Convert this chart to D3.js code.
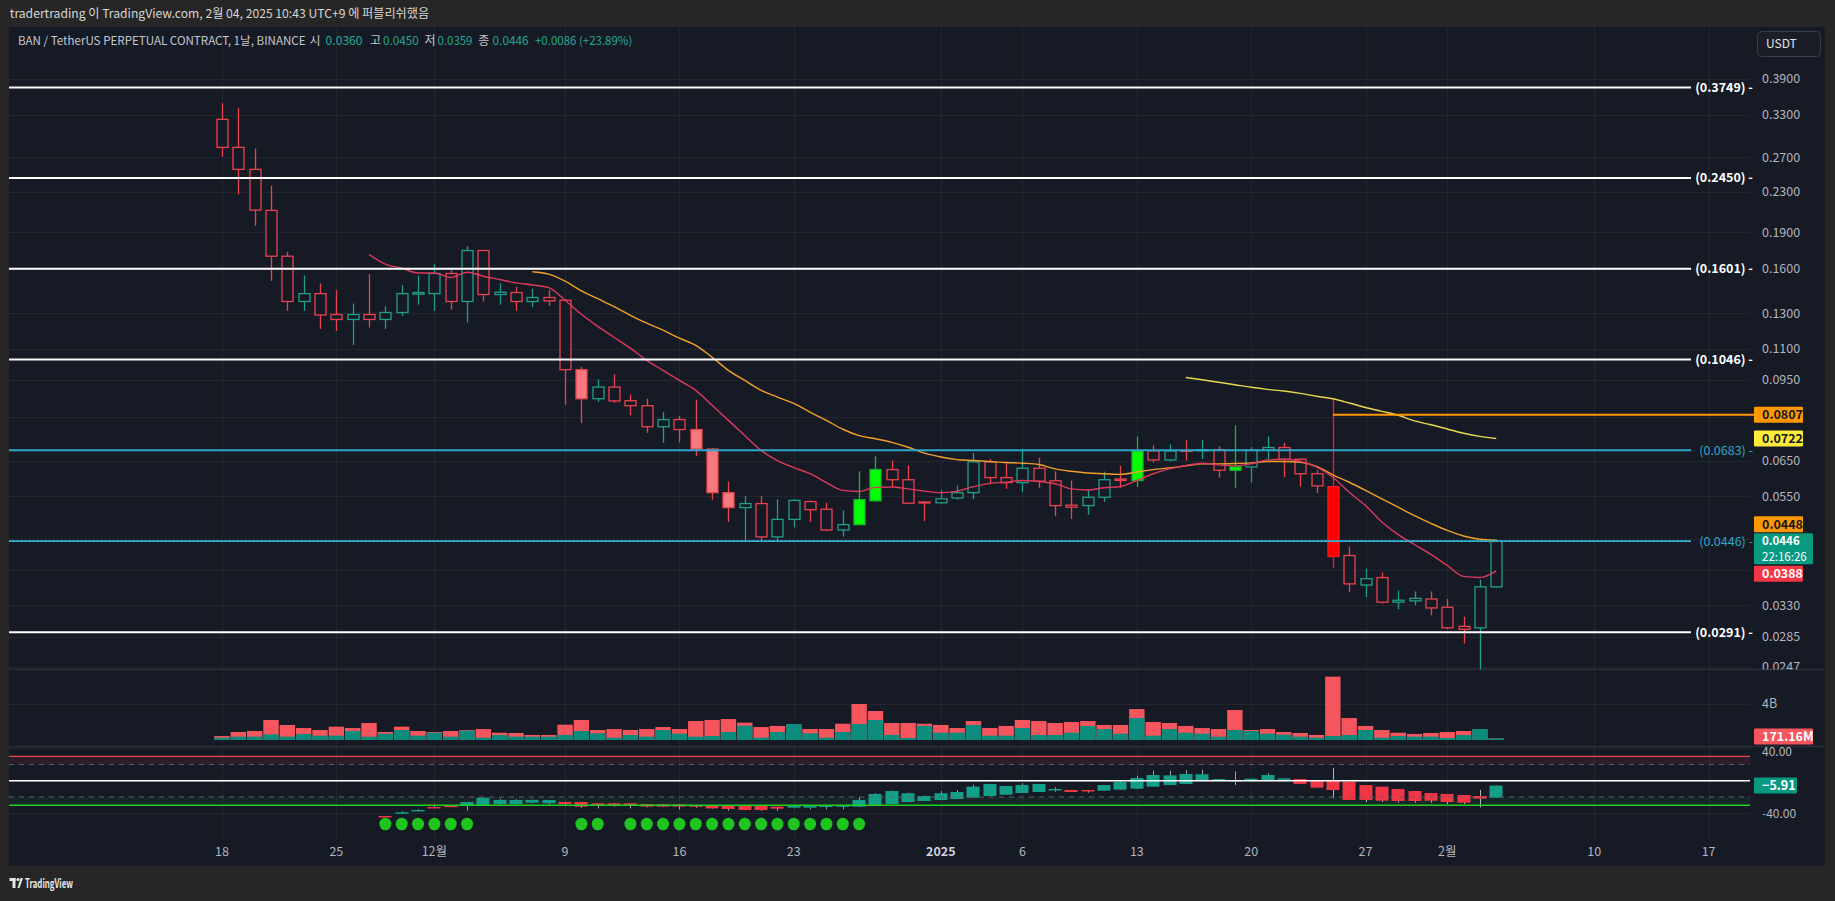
<!DOCTYPE html>
<html><head><meta charset="utf-8">
<script src="https://cdn.jsdelivr.net/npm/d3@7"></script>
<style>html,body{margin:0;padding:0;background:#262626;overflow:hidden}</style>
</head><body><svg id="c" width="1835" height="901"></svg>
<script>
// ---------------- DATA ----------------
const startDate = new Date(Date.UTC(2024, 10, 18));
const dates = d3.range(79).map(i => d3.utcDay.offset(startDate, i));
const open  = [0.3227,0.2830,0.2552,0.2105,0.1698,0.1373,0.1425,0.1292,0.1262,0.1292,
               0.1262,0.1304,0.1421,0.1425,0.1566,0.1373,0.1744,0.1419,0.1432,0.1373,
               0.1399,0.1381,0.0997,0.0870,0.0919,0.0862,0.0842,0.0763,0.0789,0.0753,
               0.0687,0.0560,0.0522,0.0532,0.0455,0.0494,0.0537,0.0518,0.0470,0.0482,
               0.0539,0.0624,0.0595,0.0536,0.0534,0.0546,0.0560,0.0647,0.0601,0.0587,
               0.0628,0.0592,0.0528,0.0527,0.0548,0.0597,0.0593,0.0681,0.0653,0.0683,
               0.0683,0.0685,0.0622,0.0632,0.0683,0.0692,0.0655,0.0612,0.0576,0.0417,
               0.0363,0.0376,0.0335,0.0337,0.0340,0.0327,0.0299,0.0297,0.0360];
const high  = [0.3480,0.3399,0.2816,0.2363,0.1733,0.1551,0.1494,0.1448,0.1360,0.1561,
               0.1343,0.1482,0.1551,0.1636,0.1590,0.1780,0.1750,0.1494,0.1470,0.1457,
               0.1448,0.1388,0.1010,0.0953,0.0976,0.0887,0.0870,0.0817,0.0802,0.0866,
               0.0690,0.0590,0.0552,0.0552,0.0543,0.0543,0.0540,0.0534,0.0515,0.0619,
               0.0664,0.0651,0.0636,0.0537,0.0567,0.0579,0.0675,0.0655,0.0643,0.0688,
               0.0660,0.0619,0.0593,0.0567,0.0618,0.0635,0.0729,0.0699,0.0702,0.0716,
               0.0718,0.0696,0.0768,0.0693,0.0729,0.0707,0.0658,0.0622,0.0870,0.0435,
               0.0392,0.0385,0.0354,0.0352,0.0352,0.0340,0.0313,0.0372,0.0450];
const low   = [0.2707,0.2269,0.1958,0.1512,0.1314,0.1314,0.1207,0.1196,0.1120,0.1215,
               0.1207,0.1281,0.1353,0.1314,0.1322,0.1244,0.1373,0.1353,0.1314,0.1338,
               0.1347,0.0846,0.0776,0.0857,0.0853,0.0805,0.0741,0.0707,0.0709,0.0665,
               0.0542,0.0488,0.0447,0.0445,0.0447,0.0476,0.0488,0.0467,0.0456,0.0481,
               0.0537,0.0575,0.0532,0.0490,0.0532,0.0542,0.0543,0.0585,0.0570,0.0561,
               0.0573,0.0501,0.0495,0.0504,0.0536,0.0573,0.0575,0.0645,0.0648,0.0651,
               0.0656,0.0601,0.0573,0.0588,0.0654,0.0602,0.0576,0.0559,0.0393,0.0351,
               0.0343,0.0333,0.0324,0.0330,0.0315,0.0295,0.0276,0.0244,0.0359];
const close = [0.2830,0.2552,0.2108,0.1698,0.1373,0.1425,0.1289,0.1262,0.1292,0.1262,
               0.1304,0.1425,0.1432,0.1566,0.1373,0.1744,0.1419,0.1434,0.1373,0.1399,
               0.1377,0.0997,0.0870,0.0919,0.0861,0.0842,0.0763,0.0789,0.0753,0.0687,
               0.0560,0.0522,0.0532,0.0455,0.0494,0.0540,0.0517,0.0470,0.0482,0.0542,
               0.0624,0.0595,0.0533,0.0534,0.0544,0.0560,0.0647,0.0601,0.0587,0.0628,
               0.0591,0.0527,0.0523,0.0548,0.0595,0.0593,0.0681,0.0653,0.0681,0.0680,
               0.0685,0.0622,0.0632,0.0683,0.0692,0.0655,0.0612,0.0578,0.0415,0.0365,
               0.0374,0.0335,0.0338,0.0341,0.0326,0.0297,0.0295,0.0360,0.0446];
// bar colouring: r hollow red, g hollow teal, P filled pink, G filled lime, R filled red
const barStyle = "rrrrrgrrgrggggrgrgrgrrPgrrrgrPPPgrggrrgGGrrrgggrrgrrrggrGrgrgrGggrrrRrgrggrrrgg".split("");
// volume in billions (total and buy part)
const volTotal = [0.44,0.89,1.00,2.22,1.67,1.33,1.11,1.48,1.33,1.89,
                  0.89,1.48,1.00,0.89,1.00,1.11,1.22,0.81,0.78,0.56,
                  0.56,1.70,2.22,1.11,1.22,1.11,1.22,1.44,1.22,2.11,
                  2.22,2.33,1.93,1.44,1.56,1.78,1.22,1.22,1.81,4.00,
                  3.22,1.89,1.89,1.81,1.67,1.33,2.11,1.33,1.56,2.22,
                  2.11,1.89,2.00,2.11,1.67,1.67,3.44,2.00,1.89,1.56,
                  1.33,1.22,3.33,1.11,1.22,0.89,0.78,0.56,7.04,2.44,
                  1.56,1.11,0.81,0.67,0.78,0.89,1.00,1.22,0.17];
const volBuy   = [0.26,0.37,0.37,0.63,0.37,0.67,0.48,0.48,1.00,0.37,
                  0.70,1.11,0.48,0.81,0.37,1.04,0.26,0.56,0.37,0.37,
                  0.37,0.56,1.00,0.74,0.26,0.56,0.37,1.11,0.70,0.37,
                  0.44,0.89,1.59,0.26,0.89,1.78,0.74,0.26,0.89,1.78,
                  2.22,0.56,0.22,1.56,0.81,0.81,1.67,0.48,0.48,1.33,
                  0.56,0.56,0.81,1.56,1.22,0.70,2.44,0.48,1.22,0.81,
                  0.70,0.37,1.11,1.00,0.70,0.59,0.37,0.26,0.44,0.56,
                  1.11,0.26,0.44,0.37,0.37,0.22,0.56,1.22,0.17];
// moving averages (start index given)
const maFastStart = 9;
const maFast = [0.1712,0.1636,0.1605,0.1570,0.1570,0.1537,0.1575,0.1546,0.1522,0.1498,0.1484,0.1465,
                0.1381,0.1293,0.1222,0.1161,0.1103,0.1042,0.0994,0.0948,0.0905,0.0844,
                0.0786,0.0732,0.0683,0.0651,0.0630,0.0612,0.0587,0.0566,0.0563,0.0574,
                0.0575,0.0570,0.0564,0.0560,0.0564,0.0576,0.0585,0.0588,0.0593,0.0590,
                0.0584,0.0570,0.0567,0.0573,0.0576,0.0593,0.0612,0.0626,0.0636,0.0643,
                0.0638,0.0635,0.0641,0.0653,0.0655,0.0649,0.0632,0.0602,0.0561,0.0527,
                0.0488,0.0460,0.0439,0.0419,0.0398,0.0378,0.0376,0.0388];
const maMidStart = 19;
const maMid = [0.1579,0.1561,0.1510,0.1444,0.1391,0.1340,0.1287,0.1240,0.1200,0.1156,
               0.1118,0.1057,0.0994,0.0948,0.0905,0.0877,0.0851,0.0817,0.0786,0.0754,
               0.0732,0.0721,0.0709,0.0693,0.0674,0.0662,0.0654,0.0651,0.0648,0.0645,
               0.0643,0.0639,0.0626,0.0619,0.0614,0.0612,0.0610,0.0617,0.0624,0.0629,
               0.0635,0.0641,0.0641,0.0642,0.0644,0.0648,0.0648,0.0646,0.0633,0.0609,
               0.0588,0.0566,0.0544,0.0523,0.0503,0.0485,0.0469,0.0457,0.0450,0.0448];
const maSlowStart = 59;
const maSlow = [0.0961,0.0951,0.0940,0.0929,0.0918,0.0909,0.0902,0.0892,0.0880,0.0870,
                0.0853,0.0835,0.0820,0.0805,0.0784,0.0770,0.0755,0.0740,0.0729,0.0722];
// horizontal levels
const whiteLevels = [0.3749, 0.2450, 0.1601, 0.1046, 0.0291];
const cyanLevels = [0.0683, 0.0446];
const orangeLevel = 0.0807, orangeLevelStart = 68;
// price axis ticks (grid) and the labels that stay visible
const priceTicks = [0.39,0.33,0.27,0.23,0.19,0.16,0.13,0.11,0.095,0.080,0.065,0.055,0.045,0.039,0.033,0.0285,0.0247];
const priceLabels = [0.39,0.33,0.27,0.23,0.19,0.16,0.13,0.11,0.095,0.065,0.055,0.033,0.0285,0.0247];
// oscillator (starts at index 10)
const oscStart = 10;
const oscOpen  = [-43.3,-39.6,-36.8,-32.2,-30.6,-30.6,-30.2,-28.6,-28.6,-26.9,
                  -27.7,-26.1,-26.1,-27.7,-27.7,-27.7,-28.6,-29.0,-29.0,-30.2,
                  -30.2,-30.2,-30.2,-30.2,-31.8,-33.1,-33.1,-32.2,-30.6,-31.8,
                  -30.2,-28.6,-26.1,-24.9,-23.6,-22.4,-20.8,-18.7,-17.1,-15.0,
                  -13.8,-10.3,-11.3,-11.3,-12.1,-10.9,-9.7,-7.2,-5.2,-3.9,
                  -0.2,0.2,0.2,1.0,0.2,2.2,2.2,1.0,-0.2,-1.1,
                  -5.2,-7.2,-10.1,-12.6,-15.0,-16.2,-17.5,-18.7,-20.8];
const oscHigh  = [-43.3,-37.7,-34.7,-30.6,-30.6,-26.1,-20.3,-22.4,-22.8,-23.0,
                  -23.6,-25.5,-26.1,-27.7,-27.7,-27.7,-28.6,-29.0,-29.0,-30.2,
                  -30.2,-30.2,-30.2,-30.2,-31.8,-30.2,-30.2,-30.2,-30.2,-20.3,
                  -15.3,-12.1,-14.6,-18.3,-12.6,-11.3,-4.7,-3.9,-6.4,-3.0,
                  -3.9,-8.0,-11.3,-11.3,-5.2,1.0,6.3,12.5,12.5,13.3,
                  13.3,2.2,11.7,2.6,9.2,3.0,2.2,1.0,15.8,-1.1,
                  -5.2,-7.2,-10.1,-12.6,-15.0,-16.2,-17.5,-11.3,-5.91];
const oscLow   = [-44.1,-39.6,-36.8,-33.1,-32.2,-36.8,-30.2,-29.8,-29.4,-27.7,
                  -29.0,-30.2,-33.1,-33.9,-31.8,-33.9,-32.7,-32.2,-35.1,-33.1,
                  -34.3,-36.8,-36.4,-36.8,-36.8,-33.9,-35.1,-35.1,-35.1,-32.2,
                  -30.2,-28.6,-26.1,-24.9,-23.6,-22.4,-20.8,-18.7,-17.1,-15.0,
                  -13.8,-13.4,-13.8,-14.6,-12.1,-10.9,-9.7,-7.2,-5.2,-3.9,
                  -0.2,0.2,-5.2,1.0,0.2,2.2,-3.9,-8.4,-21.6,-23.6,
                  -26.1,-26.1,-26.9,-26.9,-26.9,-28.6,-28.6,-32.7,-20.8];
const oscClose = [-44.1,-38.8,-35.9,-32.7,-32.2,-26.1,-20.8,-23.6,-23.6,-23.6,
                  -23.6,-28.6,-31.8,-31.0,-31.0,-31.0,-31.8,-31.8,-31.8,-31.0,
                  -33.9,-34.7,-35.9,-35.9,-34.3,-30.2,-30.2,-30.2,-30.2,-23.6,
                  -16.2,-12.6,-15.3,-18.7,-15.3,-13.8,-7.2,-3.9,-6.4,-5.2,
                  -3.9,-10.1,-13.8,-13.0,-5.2,-1.5,3.4,7.1,6.7,8.4,
                  8.0,2.2,1.0,2.6,7.1,3.0,-3.9,-8.4,-11.3,-23.6,
                  -23.6,-24.5,-24.9,-24.9,-24.5,-26.1,-26.9,-22.0,-5.91];
const oscDots = [10,11,12,13,14,15,22,23,25,26,27,28,29,30,31,32,33,34,35,36,37,38,39];
const oscLevels = {upper:30, upperIn:20, mid:0, lowerIn:-20, lower:-30};
const oscTicks = [40, 0, -40];
const oscLabels = [40, -40];
// time axis
const timeTicks = [["2024-11-18","18"],["2024-11-25","25"],["2024-12-01","12월"],["2024-12-09","9"],
  ["2024-12-16","16"],["2024-12-23","23"],["2025-01-01","2025"],["2025-01-06","6"],["2025-01-13","13"],
  ["2025-01-20","20"],["2025-01-27","27"],["2025-02-01","2월"],["2025-02-10","10"],["2025-02-17","17"]];

// ---------------- LAYOUT ----------------
const F = '"Noto Sans CJK KR","Noto Sans",sans-serif';
const BG = '#161a25', GRID = '#22262f', AX = '#b2b5be';
const TEAL = '#1f9f88', RED = '#e8434f';
const L = 9, R = 1750, AR = 1825;
const mainTop = 27, mainBot = 669.5, volTop = 670, volBot = 746.5, oscTop = 747, oscBot = 840, frameBot = 866;

const svg = d3.select('#c');
svg.append('rect').attr('width',1835).attr('height',901).attr('fill','#262626');
svg.append('rect').attr('x',L).attr('y',mainTop).attr('width',AR-L).attr('height',frameBot-mainTop).attr('fill',BG);

const defs = svg.append('defs');
defs.append('clipPath').attr('id','cm').append('rect').attr('x',L).attr('y',mainTop).attr('width',R-L).attr('height',mainBot-mainTop);
defs.append('clipPath').attr('id','cv').append('rect').attr('x',L).attr('y',volTop).attr('width',R-L).attr('height',volBot-volTop);
defs.append('clipPath').attr('id','co').append('rect').attr('x',L).attr('y',oscTop).attr('width',R-L).attr('height',oscBot-oscTop);
defs.append('clipPath').attr('id','cax').append('rect').attr('x',R).attr('y',mainTop).attr('width',AR-R).attr('height',mainBot-mainTop);
defs.append('clipPath').attr('id','coax').append('rect').attr('x',R).attr('y',oscTop).attr('width',AR-R).attr('height',oscBot-oscTop);

const x = d3.scaleUtc().domain([new Date(Date.UTC(2024,10,18)), new Date(Date.UTC(2025,1,17))]).range([222, 1708.6]);
const y = d3.scaleLog().domain([0.39, 0.0247]).range([79, 667.1]);
const yv = d3.scaleLinear().domain([0, 4]).range([740, 704]);
const yo = d3.scaleLinear().domain([-40, 40]).range([813.3, 748.3]);

// vertical grid
const pt = d3.utcParse('%Y-%m-%d');
svg.append('g').selectAll('line').data(timeTicks).join('line')
  .attr('x1', d => Math.round(x(pt(d[0])))+0.5).attr('x2', d => Math.round(x(pt(d[0])))+0.5)
  .attr('y1', mainTop).attr('y2', oscBot).attr('stroke', GRID);
// horizontal grid main
svg.append('g').selectAll('line').data(priceTicks).join('line')
  .attr('x1', L).attr('x2', R).attr('y1', d => Math.round(y(d))+0.5).attr('y2', d => Math.round(y(d))+0.5).attr('stroke', GRID);
// volume grid
svg.append('line').attr('x1',L).attr('x2',R).attr('y1',Math.round(yv(4))+0.5).attr('y2',Math.round(yv(4))+0.5).attr('stroke',GRID);
// osc grid
svg.append('g').selectAll('line').data(oscTicks).join('line')
  .attr('x1', L).attr('x2', R).attr('y1', d => Math.round(yo(d))+0.5).attr('y2', d => Math.round(yo(d))+0.5).attr('stroke', GRID);
// pane separators
[mainBot, volBot].forEach(v => svg.append('line').attr('x1',L).attr('x2',AR).attr('y1',v).attr('y2',v).attr('stroke','#2c303b').attr('stroke-width',1.5));

// ---------------- VOLUME ----------------
const gv = svg.append('g').attr('clip-path','url(#cv)');
const vw = 15.4;
gv.selectAll('rect.vt').data(volTotal).join('rect')
  .attr('x', (d,i) => x(dates[i]) - vw/2).attr('width', vw)
  .attr('y', d => yv(d)).attr('height', d => yv(0) - yv(d)).attr('fill', '#f5555d');
gv.selectAll('rect.vb').data(volBuy).join('rect')
  .attr('x', (d,i) => x(dates[i]) - vw/2).attr('width', vw)
  .attr('y', d => yv(d)).attr('height', d => yv(0) - yv(d)).attr('fill', '#0c8c7c');

// ---------------- CANDLES ----------------
const gm = svg.append('g').attr('clip-path','url(#cm)');
const styleMap = {
  r: {stroke: RED, fill: BG}, g: {stroke: TEAL, fill: BG},
  P: {stroke: '#e8474f', fill: '#f7797f'}, G: {stroke: '#17b82a', fill: '#00ff00'}, R: {stroke: '#ff1a1a', fill: '#ff0000'}
};
const cw = 11;
const candles = dates.map((d,i) => ({d, o: open[i], h: high[i], l: low[i], c: close[i], s: styleMap[barStyle[i]]}));
gm.selectAll('line.wick').data(candles).join('line')
  .attr('x1', d => Math.round(x(d.d))+0.5).attr('x2', d => Math.round(x(d.d))+0.5)
  .attr('y1', d => y(d.h)).attr('y2', d => y(d.l)).attr('stroke', d => d.s.stroke).attr('stroke-width', 1.3);
gm.selectAll('rect.body').data(candles).join('rect')
  .attr('x', d => Math.round(x(d.d)) - cw/2 + 0.5).attr('width', cw)
  .attr('y', d => y(Math.max(d.o, d.c))).attr('height', d => Math.max(1, y(Math.min(d.o, d.c)) - y(Math.max(d.o, d.c))))
  .attr('fill', d => d.s.fill).attr('stroke', d => d.s.stroke).attr('stroke-width', 1.3);

// ---------------- MOVING AVERAGES ----------------
const maLine = start => d3.line().x((d,i) => x(dates[start+i])).y(d => y(d)).curve(d3.curveMonotoneX);
gm.append('path').attr('d', maLine(maSlowStart)(maSlow)).attr('fill','none').attr('stroke','#e9d84e').attr('stroke-width',1.4);
gm.append('path').attr('d', maLine(maMidStart)(maMid)).attr('fill','none').attr('stroke','#f0a02a').attr('stroke-width',1.4);
gm.append('path').attr('d', maLine(maFastStart)(maFast)).attr('fill','none').attr('stroke','#dc3a5c').attr('stroke-width',1.4);

// ---------------- LEVEL LINES ----------------
const lvlEnd = 1691;
whiteLevels.forEach(v => {
  svg.append('line').attr('x1',L).attr('x2',lvlEnd).attr('y1',y(v)).attr('y2',y(v)).attr('stroke','#ffffff').attr('stroke-width',2);
  svg.append('text').attr('x',1753).attr('y',y(v)).attr('dy','0.35em').attr('text-anchor','end')
    .attr('font-family',F).attr('font-size',12.5).attr('font-weight','bold').attr('fill','#ffffff').text('(' + v.toFixed(4) + ') -');
});
svg.append('line').attr('x1',L).attr('x2',lvlEnd).attr('y1',y(cyanLevels[0])).attr('y2',y(cyanLevels[0])).attr('stroke','#2ea6c7').attr('stroke-width',2);
svg.append('line').attr('x1',L).attr('x2',lvlEnd).attr('y1',y(cyanLevels[1])).attr('y2',y(cyanLevels[1])).attr('stroke','#2ea6c7').attr('stroke-width',1.6);
svg.append('line').attr('x1',L).attr('x2',lvlEnd).attr('y1',y(cyanLevels[1])).attr('y2',y(cyanLevels[1])).attr('stroke','#8fd6ea').attr('stroke-width',1).attr('stroke-dasharray','1,3');
cyanLevels.forEach(v => {
  svg.append('text').attr('x',1753).attr('y',y(v)).attr('dy','0.35em').attr('text-anchor','end')
    .attr('font-family',F).attr('font-size',12.5).attr('fill','#2ea6c7').text('(' + v.toFixed(4) + ') -');
});
svg.append('line').attr('x1',x(dates[orangeLevelStart])).attr('x2',1754).attr('y1',y(orangeLevel)).attr('y2',y(orangeLevel)).attr('stroke','#ff9800').attr('stroke-width',2);

// ---------------- PRICE AXIS ----------------
const gax = svg.append('g').attr('clip-path','url(#cax)');
gax.selectAll('text').data(priceLabels).join('text')
  .attr('x',1762).attr('y',d => y(d)).attr('dy','0.35em').attr('font-family',F).attr('font-size',12.5).attr('fill',AX)
  .text(d => d.toFixed(4));
svg.append('text').attr('x',1762).attr('y',yv(4)).attr('dy','0.35em').attr('font-family',F).attr('font-size',12.5).attr('fill',AX).text('4B');
svg.append('g').attr('clip-path','url(#coax)').selectAll('text').data(oscLabels).join('text')
  .attr('x',1762).attr('y',d => d > 0 ? yo(d) + 3 : yo(d)).attr('dy','0.35em').attr('font-family',F).attr('font-size',12).attr('fill',AX)
  .text(d => d.toFixed(2));

function box(cy, h, fill, lines, tcol, w, fs = 12.5, gap = 14) {
  svg.append('rect').attr('x',1754).attr('y',cy - 8).attr('width',w).attr('height',h).attr('fill',fill).attr('rx',1);
  lines.forEach((s,k) => svg.append('text').attr('x',1762).attr('y',cy + k*gap).attr('dy','0.35em')
    .attr('font-family',F).attr('font-size',fs).attr('font-weight', k===0 ? 'bold':'normal').attr('fill',tcol).text(s));
}
const lastClose = close[close.length-1];
const mainY = y(lastClose);
box(y(orangeLevel), 16, '#ff9800', [orangeLevel.toFixed(4)], '#131722', 49);
box(y(maSlow[maSlow.length-1]), 16, '#ffeb3b', [maSlow[maSlow.length-1].toFixed(4)], '#131722', 49);
box(Math.min(y(maMid[maMid.length-1]), mainY - 17), 16, '#ff9800', [maMid[maMid.length-1].toFixed(4)], '#131722', 49);
box(mainY, 31, '#089981', [lastClose.toFixed(4), '22:16:26'], '#ffffff', 59, 11.5, 15.5);
box(Math.max(y(maFast[maFast.length-1]), mainY + 32.5), 16, '#f23645', [maFast[maFast.length-1].toFixed(4)], '#ffffff', 49);
box(736.5, 16, '#f5555d', ['171.16M'], '#ffffff', 59);
box(yo(oscClose[oscClose.length-1]), 16, '#089981', [oscClose[oscClose.length-1].toFixed(2).replace('-', '−')], '#ffffff', 43);

// USDT button
svg.append('rect').attr('x',1757.5).attr('y',31.5).attr('width',63).attr('height',25).attr('rx',4).attr('fill','#1b1e27').attr('stroke','#3a3e48');
svg.append('text').attr('x',1766).attr('y',44).attr('dy','0.35em').attr('font-family',F).attr('font-size',12).attr('fill','#e0e3eb').text('USDT');

// ---------------- OSCILLATOR ----------------
const go = svg.append('g').attr('clip-path','url(#co)');
go.append('rect').attr('x',L).attr('width',R-L).attr('y',yo(oscLevels.upper)).attr('height',yo(oscLevels.upperIn)-yo(oscLevels.upper)).attr('fill','rgba(242,54,69,0.10)');
go.append('rect').attr('x',L).attr('width',R-L).attr('y',yo(oscLevels.lowerIn)).attr('height',yo(oscLevels.lower)-yo(oscLevels.lowerIn)).attr('fill','rgba(40,160,60,0.10)');
svg.append('line').attr('x1',L).attr('x2',R).attr('y1',yo(oscLevels.upper)).attr('y2',yo(oscLevels.upper)).attr('stroke','#e8434f').attr('stroke-width',1.3);
[oscLevels.upperIn, oscLevels.lowerIn].forEach(v => svg.append('line').attr('x1',L).attr('x2',R).attr('y1',yo(v)).attr('y2',yo(v)).attr('stroke','#5d606b').attr('stroke-dasharray','5,5'));
svg.append('line').attr('x1',L).attr('x2',R).attr('y1',yo(oscLevels.mid)).attr('y2',yo(oscLevels.mid)).attr('stroke','#ffffff').attr('stroke-width',1.5);
svg.append('line').attr('x1',L).attr('x2',R).attr('y1',yo(oscLevels.lower)).attr('y2',yo(oscLevels.lower)).attr('stroke','#22d022').attr('stroke-width',1.5);
const osc = oscOpen.map((o,k) => ({d: dates[oscStart+k], o, h: oscHigh[k], l: oscLow[k], c: oscClose[k]}));
const oc = d => d.c >= d.o ? '#13a08a' : '#f23645';
go.selectAll('line.ow').data(osc).join('line')
  .attr('x1', d => Math.round(x(d.d))+0.5).attr('x2', d => Math.round(x(d.d))+0.5)
  .attr('y1', d => yo(d.h)).attr('y2', d => yo(d.l)).attr('stroke', d => d.c >= d.o ? '#9aa0a6' : '#b0b3b8').attr('stroke-width',1);
go.selectAll('rect.ob').data(osc).join('rect')
  .attr('x', d => Math.round(x(d.d)) - 6.5).attr('width', 13)
  .attr('y', d => yo(Math.max(d.o,d.c))).attr('height', d => Math.max(1.5, Math.abs(yo(d.o)-yo(d.c))))
  .attr('fill', oc);
go.selectAll('ellipse').data(oscDots).join('ellipse')
  .attr('cx', i => x(dates[i])).attr('cy', 824).attr('rx', 6).attr('ry', 6.3).attr('fill', '#1fc41f');

// ---------------- TIME AXIS ----------------
svg.append('g').selectAll('text').data(timeTicks).join('text')
  .attr('x', d => x(pt(d[0]))).attr('y', 852).attr('dy','0.35em').attr('text-anchor','middle')
  .attr('font-family',F).attr('font-size',12.5).attr('fill', d => d[1]==='2025' ? '#d1d4dc' : AX)
  .attr('font-weight', d => d[1]==='2025' ? 'bold' : 'normal').text(d => d[1]);

// ---------------- HEADER / LEGEND / FOOTER ----------------
function fitText(sel, target, size) {
  const w = sel.node().getComputedTextLength();
  if (w > target) sel.attr('font-size', size * target / w);
  else sel.attr('textLength', target).attr('lengthAdjust','spacingAndGlyphs');
}
fitText(svg.append('text').attr('x',9.8).attr('y',14).attr('dy','0.35em').attr('font-family',F).attr('font-size',13)
  .attr('fill','#d6d6d6').text('tradertrading 이 TradingView.com, 2월 04, 2025 10:43 UTC+9 에 퍼블리쉬했음'), 420, 13);
const legend = [
  ['BAN / TetherUS PERPETUAL CONTRACT, 1날, BINANCE', 17.9, 288, '#c3c6ce'],
  ['시', 309.5, 0, '#c3c6ce'], ['0.0360', 325.6, 37, '#22ab94'],
  ['고', 370, 0, '#c3c6ce'], ['0.0450', 383, 35.7, '#22ab94'],
  ['저', 424.5, 0, '#c3c6ce'], ['0.0359', 437.5, 35, '#22ab94'],
  ['종', 478.3, 0, '#c3c6ce'], ['0.0446', 492.6, 35.9, '#22ab94'],
  ['+0.0086 (+23.89%)', 535, 97.3, '#22ab94']];
legend.forEach(([t, x0, w, c]) => {
  const tx = svg.append('text').attr('x',x0).attr('y',41).attr('dy','0.35em').attr('font-family',F)
    .attr('font-size', w ? 12.5 : 12).attr('fill',c).text(t);
  if (w) fitText(tx, w, 12.5);
});
// footer logo
const lg = svg.append('g').attr('fill','#e6e6e6');
lg.append('rect').attr('x',9.5).attr('y',878).attr('width',6).attr('height',3);
lg.append('rect').attr('x',12.5).attr('y',878).attr('width',3).attr('height',10);
lg.append('circle').attr('cx',18).attr('cy',879.5).attr('r',1.6);
lg.append('path').attr('d','M19.5,888 L23,878 L20.5,878 L17.5,888 Z');
svg.append('text').attr('x',25).attr('y',883.5).attr('dy','0.35em').attr('font-family',F).attr('font-size',12.5)
  .attr('font-weight','bold').attr('fill','#e6e6e6').attr('textLength',48).attr('lengthAdjust','spacingAndGlyphs').text('TradingView');
</script></body></html>
